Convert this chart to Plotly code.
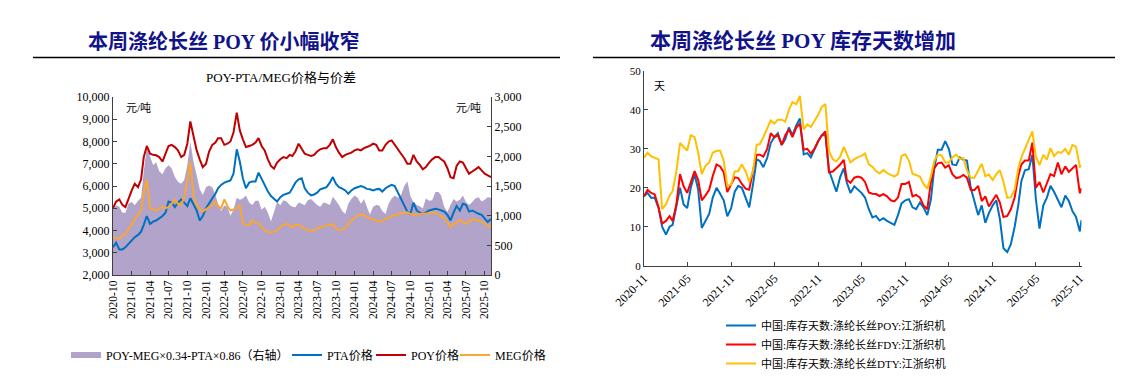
import pandas as pd
import plotly.graph_objects as go

W, H = 1123, 379
OFF = 8  # the page body adds an 8px margin around the figure


def px_x(x):
    return (x - OFF) / W


def px_y(y):
    return 1 - (y - OFF) / H


def semi_monthly(start, end):
    out = []
    for p in pd.period_range(start, end, freq="M"):
        out.append(f"{p.year}-{p.month:02d}-01")
        out.append(f"{p.year}-{p.month:02d}-16")
    return out


# ---------------- left chart data (yuan/ton), semi-monthly 2020-10 .. 2025-11 ----------------
left_dates = semi_monthly("2020-10", "2025-10") + ["2025-11-01"]

poy_price = [
    5000, 5300, 5400, 5150, 5050, 5450, 5800, 6100, 5950, 6300,
    7300, 7800, 7450, 7400, 7380, 7300, 7100, 7450, 7800, 7850,
    7750, 7600, 7300, 7400, 7900, 8900, 8150, 7600, 7200, 6850,
    7000, 7550, 7850, 7950, 8150, 8150, 7850, 7900, 8000, 8400,
    9300, 8500, 8100, 7750, 7800, 7850, 7950, 8150, 7800, 7600,
    7200, 6900, 6780, 7050, 7200, 7300, 7250, 7400, 7350, 7550,
    7900, 7700, 7450, 7400, 7350, 7400, 7550, 7650, 7700, 7700,
    7850, 8100, 7750, 7500, 7300, 7400, 7450, 7500, 7600, 7650,
    7600, 7700, 7750, 7800, 7900, 7850, 7600, 7600, 7850, 8000,
    8050, 7850, 7600, 7450, 7250, 7000, 7000, 7400, 7100, 6950,
    6750, 6850, 7050, 7200, 7300, 7300, 7200, 7100, 6800, 6400,
    6350, 6900, 7100, 7050, 6800, 6550, 6650, 6750, 6850, 6700,
    6550, 6480, 6400,
]

pta_price = [
    3250, 3450, 3150, 3150, 3250, 3400, 3550, 3700, 3800, 3950,
    4250, 4650, 4300, 4400, 4450, 4550, 4650, 4800, 5300, 5250,
    5050, 5250, 5400, 5250, 5100, 5450, 5150, 4900, 4450, 4650,
    5000, 5250, 5450, 5650, 5900, 6050, 6150, 6200, 6250, 6550,
    7650, 7100, 6350, 5900, 6150, 6200, 6200, 6600, 6300, 6050,
    5750, 5550, 5400, 5300, 5500, 5600, 5650, 5700, 5900, 6150,
    6300, 6350, 5900, 5700, 5580, 5620, 5700, 5850, 5900, 5950,
    6150, 6400, 6100, 5950, 5880, 5800, 5650, 5800, 5900, 5950,
    6000, 5950, 5870, 5850, 5800, 5850, 5870, 5750, 5900, 5980,
    6050, 6000, 5700, 5450, 5150, 4850, 4750, 5250, 4900, 4800,
    4750, 4800, 4900, 4950, 4980, 4950, 4900, 4850, 4700, 4450,
    4800, 5100, 4900, 5200, 5150, 4850, 4900, 4820, 4750, 4700,
    4550, 4380, 4520,
]

meg_price = [
    3700, 3650, 3620, 3750, 3850, 4050, 4300, 4500, 4700, 4900,
    5700, 6300, 5000, 4950, 4900, 5000, 5050, 5000, 5050, 5200,
    5400, 5200, 5150, 5500, 6200, 7100, 5500, 5150, 4950, 4850,
    4950, 5050, 5150, 5300, 5100, 5000, 5400, 5100, 4900, 4950,
    5000, 5150, 4350, 4250, 4250, 4450, 4350, 4300, 4150, 4000,
    3950, 3900, 3950, 4000, 4150, 4250, 4300, 4250, 4150, 4250,
    4250, 4150, 4100, 4000, 4000, 4000, 4100, 4150, 4200, 4220,
    4250, 4300, 4100, 4000, 4050, 4100, 4300, 4450, 4550, 4680,
    4720, 4700, 4600, 4550, 4520, 4450, 4400, 4450, 4520, 4600,
    4650, 4700, 4720, 4780, 4800, 4820, 4750, 4680, 4720, 4750,
    4760, 4750, 4780, 4820, 4800, 4700, 4650, 4550, 4400, 4150,
    4280, 4350, 4450, 4380, 4300, 4400, 4500, 4480, 4450, 4400,
    4320, 4200, 4150,
]

spread = [
    1100, 1175, 1150, 1050, 1050, 1200, 1230, 1175, 1250, 1300,
    1750, 2150, 2000, 1850, 1900, 1750, 1700, 1800, 1850, 1800,
    1650, 1570, 1540, 1600, 1850, 2240, 1900, 1680, 1450, 1350,
    1480, 1510, 1480, 1350, 1200, 1080, 1170, 1150, 1000, 1100,
    1300, 1270, 1290, 1340, 1220, 1180, 1250, 1250, 1100, 1150,
    1050, 900, 1060, 1230, 1175, 1260, 1240, 1180, 1150, 1140,
    1220, 1200, 1175, 1260, 1280, 1230, 1180, 1150, 1220, 1210,
    1180, 1320, 1250, 1180, 1080, 1030, 1200, 1280, 1340, 1300,
    1200, 1280, 1150, 1020, 1150, 1180, 1170, 1080, 1030, 1200,
    1290, 1340, 1300, 1350, 1500, 1580, 1330, 1230, 1180, 1160,
    1120, 1290, 1250, 1260, 1400, 1400, 1340, 1150, 1060, 1180,
    1280, 1240, 1270, 1340, 1230, 1180, 1230, 1290, 1310, 1240,
    1270, 1310, 1300,
]

# ---------------- right chart data (days), semi-monthly 2020-11 .. 2025-11 ----------------
right_dates = semi_monthly("2020-11", "2025-10") + ["2025-11-01", "2025-11-08"]

inv_poy = [
    17.8, 18.7, 17.4, 17.5, 14.8, 10.0, 8.0, 10.0, 10.5, 15.0,
    20.0, 15.7, 14.8, 20.0, 23.5, 19.5, 9.7, 11.4, 13.3, 17.5,
    20.0, 18.5, 16.8, 12.7, 14.8, 19.0, 20.5, 20.0, 17.2, 15.0,
    21.0, 27.3, 26.9, 25.3, 27.7, 31.5, 33.0, 34.0, 31.0, 32.5,
    35.5, 33.5, 36.0, 37.8, 28.6, 28.9, 27.8, 30.0, 32.0, 33.5,
    33.5, 24.5, 21.7, 19.0, 22.8, 25.0, 21.3, 18.7, 20.4, 19.5,
    18.7, 17.5, 14.5, 12.4, 12.8, 11.6, 12.2, 11.5, 11.0, 10.5,
    13.0, 16.0, 16.8, 17.1, 15.0, 14.5, 16.2, 15.0, 13.0, 17.0,
    25.0, 29.8, 29.8, 32.0, 30.0, 26.0, 25.8, 27.8, 27.2, 27.0,
    20.0, 16.5, 13.0, 15.5, 11.0, 13.5, 15.5, 16.8, 12.0, 4.5,
    3.5, 5.5, 10.0, 15.5, 21.7, 24.5, 24.8, 28.5, 17.0, 9.5,
    15.5, 17.5, 20.5, 19.0, 17.0, 15.0, 18.0, 16.6, 14.0, 12.5,
    8.8, 11.7,
]

inv_fdy = [
    17.8, 19.5, 18.7, 18.3, 15.0, 10.8, 11.5, 12.7, 11.5, 15.5,
    23.5, 20.4, 18.7, 21.6, 24.3, 22.0, 16.8, 18.0, 19.5, 23.0,
    26.0, 25.5, 24.0, 18.9, 20.8, 22.7, 22.5, 21.0, 19.8, 19.5,
    24.5, 28.5, 28.5, 28.0, 30.0, 34.0, 33.0, 33.5, 31.0, 33.5,
    35.0, 33.0, 35.5, 36.5, 29.8, 30.0, 28.8, 30.0, 32.0, 33.5,
    34.5, 24.0, 24.2, 25.0, 26.0, 27.2, 22.0, 21.3, 22.6, 22.9,
    22.6, 21.5, 18.8, 18.5, 18.4, 17.9, 18.4, 17.8, 16.8, 16.5,
    17.5, 21.0, 21.0, 21.5, 17.8, 18.2, 17.5, 15.5, 14.5, 21.5,
    25.0, 26.3, 26.5, 25.2, 25.8, 23.5, 22.5, 22.7, 23.3, 22.6,
    19.5, 19.4, 20.5, 16.6, 17.8, 15.2, 16.6, 18.2, 16.2, 12.5,
    12.8, 14.5, 17.5, 23.0, 26.0, 27.0, 27.0, 31.6, 20.0, 21.5,
    18.8, 21.0, 23.5, 23.0, 26.5, 23.5, 25.5, 24.1, 25.0, 25.9,
    18.6, 19.9,
]

inv_dty = [
    27.7, 29.0, 28.1, 27.7, 27.3, 14.5, 15.8, 18.0, 19.2, 24.0,
    31.5, 30.5, 29.6, 33.5, 33.0, 29.0, 23.5, 25.6, 26.5, 29.0,
    29.5, 29.5, 27.0, 20.5, 20.8, 24.2, 24.3, 26.0, 24.2, 21.5,
    24.5, 31.1, 31.2, 33.0, 35.2, 37.3, 36.5, 37.5, 37.5, 37.0,
    40.0, 42.0, 41.5, 43.6, 35.0, 36.3, 35.6, 37.0, 38.8, 40.8,
    41.5, 29.5, 27.3, 26.8, 28.0, 30.5, 28.5, 26.5, 27.3, 27.9,
    28.2, 28.8, 26.0, 25.4, 24.3, 23.7, 24.6, 23.8, 23.3, 22.9,
    23.5, 28.2, 28.6, 27.0, 23.6, 23.2, 22.9, 21.0, 19.8, 23.0,
    26.8, 28.6, 28.3, 26.5, 26.5, 27.8, 28.5, 27.4, 27.6, 24.5,
    22.6, 22.6, 24.6, 26.2, 23.0, 23.4, 22.0, 23.5, 24.5, 21.5,
    17.4, 17.6, 19.5, 25.0, 27.8, 30.0, 32.0, 34.5, 28.0, 25.8,
    28.5, 27.2, 30.2, 28.2, 29.2, 29.0, 30.0, 28.5, 31.0, 30.5,
    25.4, 25.6,
]

# ---------------- texts ----------------
title_left = "本周涤纶长丝 POY 价小幅收窄"
title_right = "本周涤纶长丝 POY 库存天数增加"
subtitle_left = "POY-PTA/MEG价格与价差"
name_spread = "POY-MEG×0.34-PTA×0.86（右轴）"
name_pta = "PTA价格"
name_poy = "POY价格"
name_meg = "MEG价格"
name_inv_poy = "中国:库存天数:涤纶长丝POY:江浙织机"
name_inv_fdy = "中国:库存天数:涤纶长丝FDY:江浙织机"
name_inv_dty = "中国:库存天数:涤纶长丝DTY:江浙织机"

SERIF = "Times New Roman, Liberation Serif, Noto Sans CJK SC, serif"
AXIS_COLOR = "#404040"

fig = go.Figure()

# left chart
fig.add_trace(go.Scatter(x=left_dates, y=spread, name=name_spread, mode="none",
                         fill="tozeroy", fillcolor="#B1A3C9",
                         xaxis="x", yaxis="y", legend="legend"))
fig.add_trace(go.Scatter(x=left_dates, y=pta_price, name=name_pta, mode="lines",
                         line=dict(color="#0070C0", width=2),
                         xaxis="x", yaxis="y2", legend="legend3"))
fig.add_trace(go.Scatter(x=left_dates, y=poy_price, name=name_poy, mode="lines",
                         line=dict(color="#C00000", width=2),
                         xaxis="x", yaxis="y2", legend="legend4"))
fig.add_trace(go.Scatter(x=left_dates, y=meg_price, name=name_meg, mode="lines",
                         line=dict(color="#FAA634", width=2),
                         xaxis="x", yaxis="y2", legend="legend5"))

# right chart
fig.add_trace(go.Scatter(x=right_dates, y=inv_poy, name=name_inv_poy, mode="lines",
                         line=dict(color="#0070C0", width=2),
                         xaxis="x2", yaxis="y3", legend="legend2"))
fig.add_trace(go.Scatter(x=right_dates, y=inv_fdy, name=name_inv_fdy, mode="lines",
                         line=dict(color="#FF0000", width=2),
                         xaxis="x2", yaxis="y3", legend="legend2"))
fig.add_trace(go.Scatter(x=right_dates, y=inv_dty, name=name_inv_dty, mode="lines",
                         line=dict(color="#FFC000", width=2),
                         xaxis="x2", yaxis="y3", legend="legend2"))

axis_common = dict(showgrid=False, zeroline=False, showline=True, linecolor=AXIS_COLOR,
                   linewidth=1, ticks="inside", ticklen=4, tickcolor=AXIS_COLOR,
                   automargin=False,
                   tickfont=dict(family=SERIF, size=12, color="#000000"))


def h_legend(x_px):
    return dict(orientation="h", x=px_x(x_px), xanchor="left", y=px_y(355), yanchor="middle",
                font=dict(family=SERIF, size=12), bgcolor="rgba(0,0,0,0)")


fig.update_layout(
    width=W, height=H, margin=dict(l=0, r=0, t=0, b=0, autoexpand=False),
    paper_bgcolor="white", plot_bgcolor="white",
    font=dict(family=SERIF, color="#000000"),
    xaxis=dict(axis_common, domain=[px_x(113), px_x(491)], anchor="y", type="date",
               range=["2020-10-01", "2025-11-01"], tick0="2020-10-01", dtick="M3",
               tickformat="%Y-%m", tickangle=-90,
               tickfont=dict(family=SERIF, size=11.5, color="#000000")),
    yaxis=dict(axis_common, domain=[px_y(275), px_y(97)], anchor="x", side="right",
               range=[0, 3000], dtick=500, tickformat=","),
    yaxis2=dict(axis_common, overlaying="y", anchor="x", side="left",
                range=[2000, 10000], dtick=1000, tickformat=","),
    xaxis2=dict(axis_common, domain=[px_x(644), px_x(1081.5)], anchor="y3", type="date",
                range=["2020-11-01", "2025-11-08"], tick0="2020-11-01", dtick="M6",
                tickformat="%Y-%m", tickangle=-45,
                tickfont=dict(family=SERIF, size=12, color="#000000")),
    yaxis3=dict(axis_common, domain=[px_y(265.7), px_y(71)], anchor="x2",
                range=[0, 50], dtick=10,
                tickfont=dict(family=SERIF, size=11, color="#000000")),
    legend=h_legend(66),
    legend3=h_legend(287),
    legend4=h_legend(371),
    legend5=h_legend(455),
    legend2=dict(orientation="v", x=px_x(721), xanchor="left", y=px_y(311), yanchor="top",
                 font=dict(family=SERIF, size=11), bgcolor="rgba(0,0,0,0)"),
    showlegend=True,
)

TITLE_COLOR = "#12128A"
annotations = [
    dict(text=f"<b>{title_left}</b>", x=px_x(86), y=px_y(41), xanchor="left", yanchor="middle",
         font=dict(family=SERIF, size=20, color=TITLE_COLOR)),
    dict(text=f"<b>{title_right}</b>", x=px_x(648), y=px_y(41), xanchor="left", yanchor="middle",
         font=dict(family=SERIF, size=21, color=TITLE_COLOR)),
    dict(text=subtitle_left, x=px_x(281), y=px_y(77), xanchor="center", yanchor="middle",
         font=dict(family=SERIF, size=13, color="#000000")),
    dict(text="元/吨", x=px_x(124), y=px_y(108), xanchor="left", yanchor="middle",
         font=dict(family=SERIF, size=11, color="#000000")),
    dict(text="元/吨", x=px_x(454), y=px_y(108), xanchor="left", yanchor="middle",
         font=dict(family=SERIF, size=11, color="#000000")),
    dict(text="天", x=px_x(652), y=px_y(86), xanchor="left", yanchor="middle",
         font=dict(family=SERIF, size=11, color="#000000")),
]
for a in annotations:
    a.update(xref="paper", yref="paper", showarrow=False)
fig.update_layout(annotations=annotations)

fig.update_layout(shapes=[
    dict(type="line", xref="paper", yref="paper", x0=px_x(33), x1=px_x(560),
         y0=px_y(57.5), y1=px_y(57.5), line=dict(color="#000000", width=1.5)),
    dict(type="line", xref="paper", yref="paper", x0=px_x(593), x1=px_x(1121),
         y0=px_y(57.5), y1=px_y(57.5), line=dict(color="#000000", width=1.5)),
])

fig.write_html("out.html")
